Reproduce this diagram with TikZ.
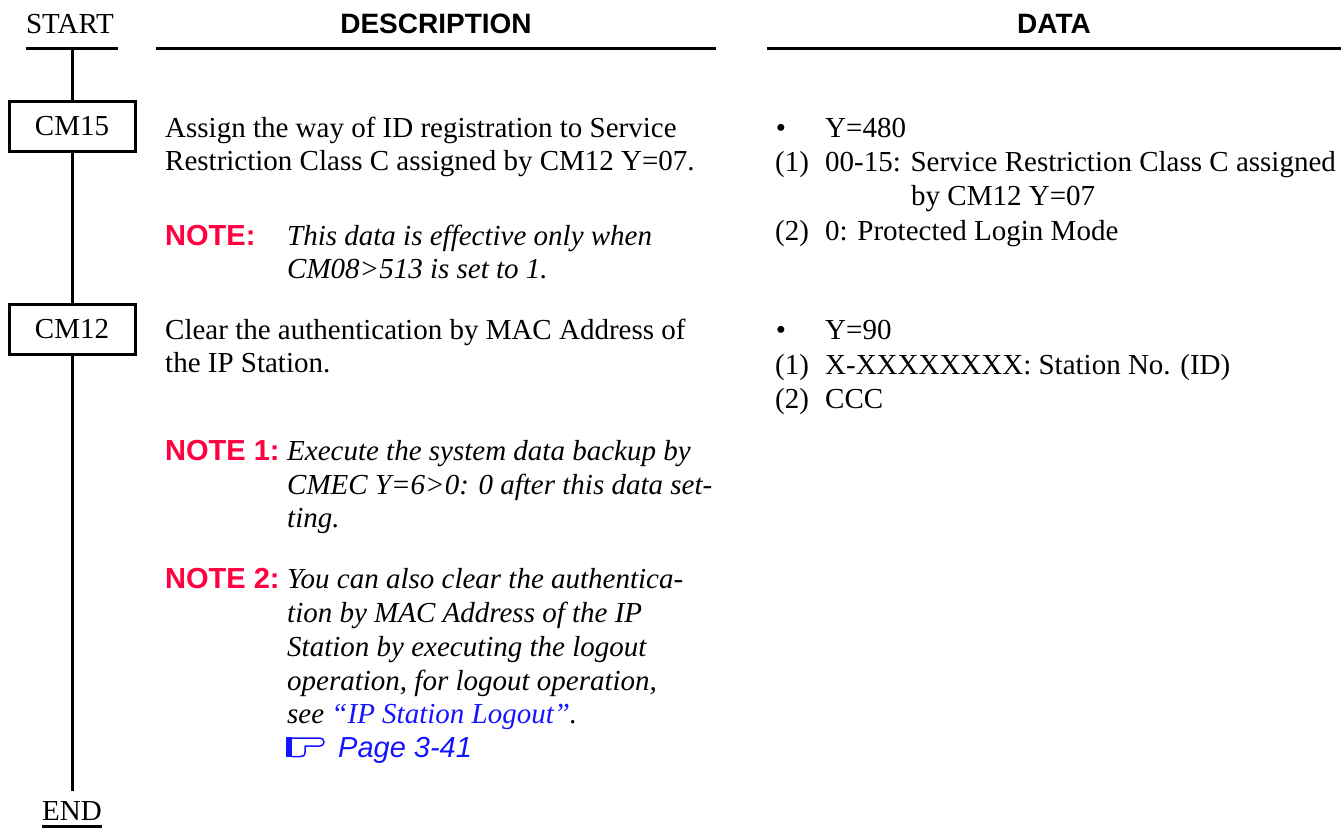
\documentclass[tikz,border=0pt]{standalone}
\usepackage{fontspec}
\setmainfont{Liberation Serif}
\setsansfont{Liberation Sans}
\definecolor{notered}{RGB}{255,0,64}
\definecolor{linkblue}{RGB}{20,20,255}

\begin{document}
\begin{tikzpicture}[x=1pt,y=-1pt,
  txt/.style={anchor=base west,inner sep=0pt,font=\fontsize{29}{34}\selectfont},
  itx/.style={anchor=base west,inner sep=0pt,font=\fontsize{29}{34}\selectfont\itshape},
  notelbl/.style={anchor=base west,inner sep=0pt,text=notered,font=\sffamily\bfseries\fontsize{29}{34}\selectfont},
  head/.style={anchor=base,inner sep=0pt,font=\sffamily\bfseries\fontsize{28}{34}\selectfont},
  rule/.style={line width=3pt},
  cmbox/.style={draw,line width=3pt,minimum width=126pt,minimum height=50pt,inner sep=0pt,font=\fontsize{29}{34}\selectfont},
  flow/.style={line width=3pt},
  link/.style={text=linkblue}]
\useasboundingbox (0,0) rectangle (1341,828);

% column headings and their rules
\node[txt,anchor=base] (start) at (70,33) {START};
\draw[rule] (26,48) coordinate (startl) -- (118,48) coordinate (startr);
\coordinate (top) at (72,48);
\node[head] (hdesc) at (436,33) {DESCRIPTION};
\draw[rule] (156,48) coordinate (descl) -- (716,48) coordinate (descr);
\node[head] (hdata) at (1054,33) {DATA};
\draw[rule] (767,48) coordinate (datal) -- (1341,48) coordinate (datar);

% flow column
\node[cmbox] (cm15) at (72,126.5) {CM15};
\node[cmbox] (cm12) at (72,329) {CM12};
\coordinate (endtop) at (72,791);
\node[txt,anchor=base] (end) at (72,820) {END};
\draw[rule] ([yshift=-6pt]end.base west) -- ([yshift=-6pt]end.base east);
\draw[flow] (top) -- (cm15);
\draw[flow] (cm15) -- (cm12);
\draw[flow] (cm12) -- (endtop);

% CM15 description
\node[txt] (d1a) at (165,137) {Assign the way of ID registration to Service};
\node[txt] (d1b) at (165,170) {Restriction Class C assigned by CM12 Y=07.};
\node[notelbl] (n1) at (165,245) {NOTE:};
\node[itx] (n1a) at (287,245) {This data is effective only when};
\node[itx] (n1b) at (287,278) {CM08>513 is set to 1.};

% CM12 description
\node[txt] (d2a) at (165,339) {Clear the authentication by MAC Address of};
\node[txt] (d2b) at (165,372) {the IP Station.};
\node[notelbl] (n2) at (165,460) {NOTE 1:};
\node[itx] (n2a) at (287,460) {Execute the system data backup by};
\node[itx] (n2b) at (287,494) {CMEC Y=6>0: 0 after this data set-};
\node[itx] (n2c) at (287,527) {ting.};
\node[notelbl] (n3) at (165,588) {NOTE 2:};
\node[itx] (n3a) at (287,588) {You can also clear the authentica-};
\node[itx] (n3b) at (287,622) {tion by MAC Address of the IP};
\node[itx] (n3c) at (287,656) {Station by executing the logout};
\node[itx] (n3d) at (287,690) {operation, for logout operation,};
\node[itx] (n3e) at (287,723) {see \textcolor{linkblue}{“IP Station Logout”}.};

% page reference with pointing hand
\fill[linkblue] (286,737) rectangle (292,757);
\draw[linkblue,line width=1.5pt,line join=round]
  (292,738) -- (320,738) arc[start angle=-90,end angle=90,radius=4]
  -- (305,746) -- (305,752) .. controls (305,756) and (303,756.5) .. (300,756.5) -- (292,756.5);
\node[anchor=base west,inner sep=0pt,link,font=\sffamily\itshape\fontsize{29}{34}\selectfont] (pg) at (338,757) {Page 3-41};

% CM15 data
\node[txt,anchor=base] (b1) at (781,137) {•};
\node[txt] (v1) at (825,137) {Y=480};
\node[txt] (p1) at (775,171) {(1)};
\node[txt] (v2) at (825,171) {00-15: Service Restriction Class C assigned};
\node[txt] (v3) at (911,205) {by CM12 Y=07};
\node[txt] (p2) at (775,240) {(2)};
\node[txt] (v4) at (825,240) {0: Protected Login Mode};

% CM12 data
\node[txt,anchor=base] (b2) at (781,339) {•};
\node[txt] (w1) at (825,339) {Y=90};
\node[txt] (q1) at (775,374) {(1)};
\node[txt] (w2) at (825,374) {X-XXXXXXXX: Station No. (ID)};
\node[txt] (q2) at (775,408) {(2)};
\node[txt] (w3) at (825,408) {CCC};
\end{tikzpicture}
\end{document}
